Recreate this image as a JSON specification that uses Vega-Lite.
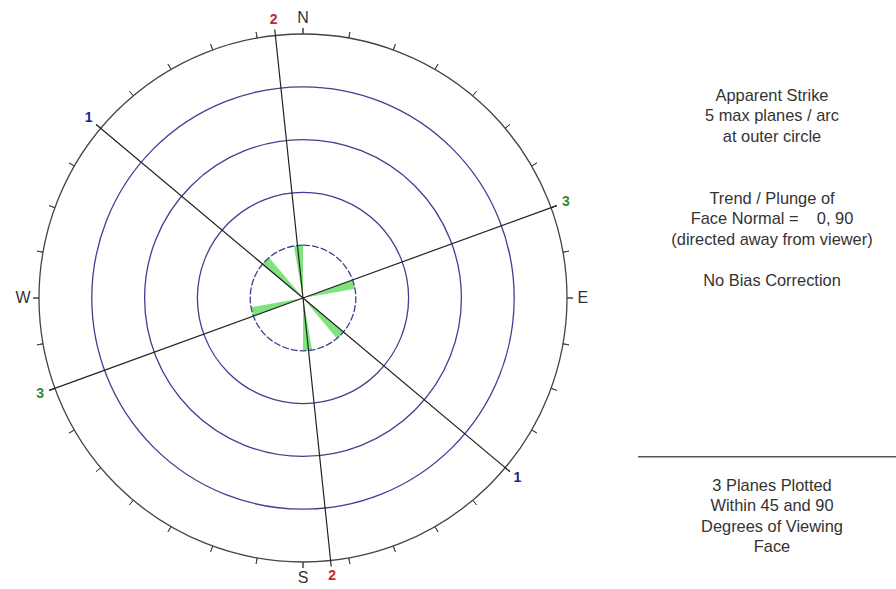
{
  "$schema": "https://vega.github.io/schema/vega-lite/v6.json",
  "padding": {"left": 0, "top": 10, "right": 0, "bottom": 0},
  "background": "white",
  "config": {"view": {"stroke": null}, "font": "Liberation Sans"},
  "spacing": 31,
  "datasets": {
    "petals": [
      {"from": 350, "to": 360, "planes": 1},
      {"from": 170, "to": 180, "planes": 1},
      {"from": 310, "to": 320, "planes": 1},
      {"from": 130, "to": 140, "planes": 1},
      {"from": 70, "to": 80, "planes": 1},
      {"from": 250, "to": 260, "planes": 1}
    ],
    "rings": [{"planes": 2}, {"planes": 3}, {"planes": 4}],
    "inner": [{"planes": 1}],
    "outer": [{"planes": 5}],
    "ticks": [
      {"azimuth": 0}, {"azimuth": 10}, {"azimuth": 20}, {"azimuth": 30}, {"azimuth": 40}, {"azimuth": 50},
      {"azimuth": 60}, {"azimuth": 70}, {"azimuth": 80}, {"azimuth": 90}, {"azimuth": 100}, {"azimuth": 110},
      {"azimuth": 120}, {"azimuth": 130}, {"azimuth": 140}, {"azimuth": 150}, {"azimuth": 160}, {"azimuth": 170},
      {"azimuth": 180}, {"azimuth": 190}, {"azimuth": 200}, {"azimuth": 210}, {"azimuth": 220}, {"azimuth": 230},
      {"azimuth": 240}, {"azimuth": 250}, {"azimuth": 260}, {"azimuth": 270}, {"azimuth": 280}, {"azimuth": 290},
      {"azimuth": 300}, {"azimuth": 310}, {"azimuth": 320}, {"azimuth": 330}, {"azimuth": 340}, {"azimuth": 350}
    ],
    "strikes": [
      {"plane": "1", "azimuth": 310},
      {"plane": "1", "azimuth": 130},
      {"plane": "2", "azimuth": 354},
      {"plane": "2", "azimuth": 174},
      {"plane": "3", "azimuth": 70},
      {"plane": "3", "azimuth": 250}
    ],
    "compass": [
      {"dir": "N", "azimuth": 0},
      {"dir": "E", "azimuth": 90},
      {"dir": "S", "azimuth": 180},
      {"dir": "W", "azimuth": 270}
    ],
    "notes": [
      {"line": 0, "note": "Apparent Strike"},
      {"line": 1, "note": "5 max planes / arc"},
      {"line": 2, "note": "at outer circle"},
      {"line": 5, "note": "Trend / Plunge of"},
      {"line": 6, "note": "Face Normal =\u00a0\u00a0\u00a0\u00a00, 90"},
      {"line": 7, "note": "(directed away from viewer)"},
      {"line": 9, "note": "No Bias Correction"},
      {"line": 19, "note": "3 Planes Plotted"},
      {"line": 20, "note": "Within 45 and 90"},
      {"line": 21, "note": "Degrees of Viewing"},
      {"line": 22, "note": "Face"}
    ],
    "divider": [{"line": 17.6}]
  },
  "hconcat": [
    {
      "width": 606,
      "height": 576,
      "layer": [
        {
          "data": {"name": "petals"},
          "mark": {"type": "arc", "fill": "#7fe27f", "stroke": null},
          "encoding": {
            "theta": {"field": "from", "type": "quantitative", "stack": null, "scale": {"type": "linear", "domain": [0, 360], "range": [0, 6.283185307179586]}},
            "theta2": {"field": "to"},
            "radius": {"field": "planes", "type": "quantitative", "stack": null, "scale": {"type": "linear", "domain": [0, 5], "range": [0, 264], "zero": true}}
          }
        },
        {
          "data": {"name": "rings"},
          "mark": {"type": "arc", "filled": false, "stroke": "#3f3f92", "strokeWidth": 1.3},
          "encoding": {
            "theta": {"datum": 0, "type": "quantitative", "stack": null},
            "theta2": {"datum": 360},
            "radius": {"field": "planes", "type": "quantitative", "stack": null}
          }
        },
        {
          "data": {"name": "inner"},
          "mark": {"type": "arc", "filled": false, "stroke": "#3f3f92", "strokeWidth": 1.3, "strokeDash": [7, 2]},
          "encoding": {
            "theta": {"datum": 0, "type": "quantitative", "stack": null},
            "theta2": {"datum": 360},
            "radius": {"field": "planes", "type": "quantitative", "stack": null}
          }
        },
        {
          "data": {"name": "outer"},
          "mark": {"type": "arc", "filled": false, "stroke": "#444444", "strokeWidth": 1.3},
          "encoding": {
            "theta": {"datum": 0, "type": "quantitative", "stack": null},
            "theta2": {"datum": 360},
            "radius": {"field": "planes", "type": "quantitative", "stack": null}
          }
        },
        {
          "data": {"name": "ticks"},
          "mark": {"type": "arc", "filled": false, "stroke": "#444444", "strokeWidth": 1},
          "encoding": {
            "theta": {"field": "azimuth", "type": "quantitative", "stack": null},
            "theta2": {"field": "azimuth"},
            "radius": {"datum": 5.114, "type": "quantitative", "stack": null},
            "radius2": {"datum": 5}
          }
        },
        {
          "data": {"name": "strikes"},
          "mark": {"type": "arc", "filled": false, "stroke": "#222222", "strokeWidth": 1.2},
          "encoding": {
            "theta": {"field": "azimuth", "type": "quantitative", "stack": null},
            "theta2": {"field": "azimuth"},
            "radius": {"datum": 5.114, "type": "quantitative", "stack": null}
          }
        },
        {
          "data": {"name": "strikes"},
          "mark": {"type": "text", "fontSize": 14, "fontWeight": "bold", "align": "center", "baseline": "middle"},
          "encoding": {
            "theta": {"field": "azimuth", "type": "quantitative", "stack": null},
            "radius": {"datum": 5.3, "type": "quantitative", "stack": null},
            "text": {"field": "plane"},
            "color": {"field": "plane", "type": "nominal", "scale": {"domain": ["1", "2", "3"], "range": ["#23238f", "#c0282d", "#2e8b3a"]}, "legend": null}
          }
        },
        {
          "data": {"name": "compass"},
          "mark": {"type": "text", "fontSize": 16, "color": "#333333", "align": "center", "baseline": "middle"},
          "encoding": {
            "theta": {"field": "azimuth", "type": "quantitative", "stack": null},
            "radius": {"datum": 5.3, "type": "quantitative", "stack": null},
            "text": {"field": "dir"}
          }
        }
      ]
    },
    {
      "width": 248,
      "height": 576,
      "layer": [
        {
          "data": {"name": "notes"},
          "mark": {"type": "text", "fontSize": 16.4, "color": "#333333", "align": "center", "baseline": "middle"},
          "encoding": {
            "x": {"datum": 0.5, "type": "quantitative", "scale": {"domain": [0, 1], "nice": false, "zero": false}, "axis": null},
            "y": {"field": "line", "type": "quantitative", "scale": {"domain": [-4.195, 23.902], "reverse": true, "nice": false, "zero": false}, "axis": null},
            "text": {"field": "note"}
          }
        },
        {
          "data": {"name": "divider"},
          "mark": {"type": "rule", "color": "#555555", "strokeWidth": 1.5},
          "encoding": {
            "x": {"datum": -0.04, "type": "quantitative"},
            "x2": {"datum": 1},
            "y": {"field": "line", "type": "quantitative"}
          }
        }
      ]
    }
  ]
}
